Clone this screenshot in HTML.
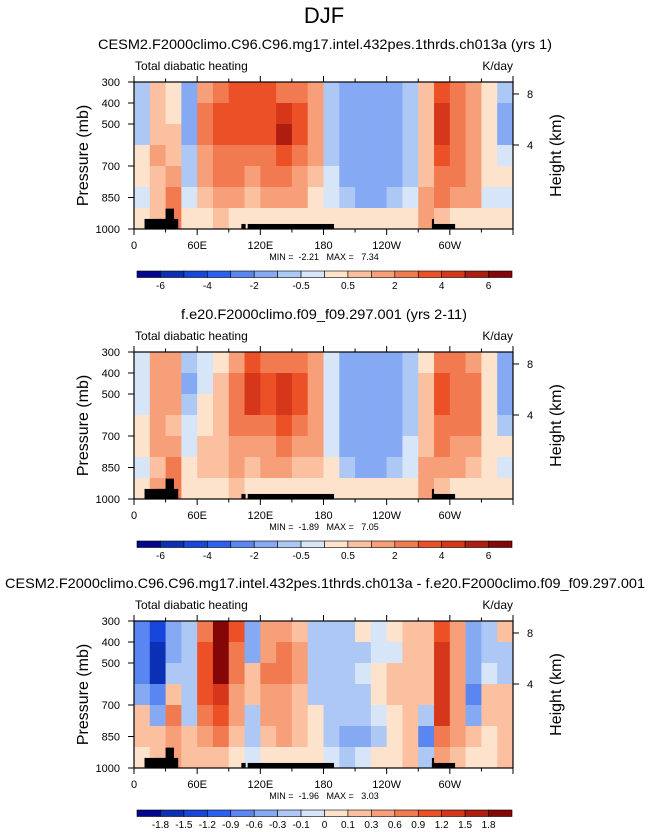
<!DOCTYPE html>
<html><head><meta charset="utf-8"><style>
html,body{margin:0;padding:0;background:#fff;}
svg{display:block;font-family:"Liberation Sans",sans-serif;}
.pre{white-space:pre;}
</style></head><body>
<svg id="fig" width="648" height="832" viewBox="0 0 648 832">
<text x="324" y="23" font-size="22" text-anchor="middle">DJF</text>
</svg>
<script>
// ===== data =====
const lonEdges = [0,15,30,45,60,75,90,105,120,135,150,165,180,195,210,225,240,255,270,285,300,315,330,345,360];
const presEdges = [300,400,500,600,700,800,900,1000];
const levelsAbs = [-6,-5,-4,-3,-2,-1,-0.5,0,0.5,1,2,3,4,5,6];
const levelsDiff = [-1.8,-1.5,-1.2,-0.9,-0.6,-0.3,-0.1,0,0.1,0.3,0.6,0.9,1.2,1.5,1.8];
const cbLabelsAbs = ["-6","-4","-2","-0.5","0.5","2","4","6"];
const cbLabelsDiff = ["-1.8","-1.5","-1.2","-0.9","-0.6","-0.3","-0.1","0","0.1","0.3","0.6","0.9","1.2","1.5","1.8"];
const xTickLons = [0,60,120,180,240,300];
const xTickLabels = ["0","60E","120E","180","120W","60W"];
const yTickPres = [300,400,500,700,850,1000];
const hTicks = [8,4];
const hTickPres = [357,600];
const palette = ["#04068f","#0b30b6","#1646da","#2b60f1","#5a86f1","#86a9f4","#aec8f6","#d7e5f8","#fde3cc","#fbc0a0","#f79f78","#f27a50","#ec5027","#d6371a","#ae1d10","#850606"];
// topography: [lonStart, lonEnd, topPressure]
const topoLon0 = [10,20,30,102,108,283,283];
const topoLon1 = [42,30,38,106,190,285,305];
const topoTop  = [952,952,903,976,976,952,976];

const p1 = [
[-0.7,0.7,0.3,-1.5,1.5,2.5,3,3,3,2.5,2.5,1.5,-0.8,-1.5,-1.5,-1.5,-1.5,-0.7,0.5,3,2,1.5,0.3,-1],
[-0.7,0.7,0.3,-1.5,2,3.5,3.5,3.5,3.5,4.5,3,1.5,-0.8,-1.5,-1.5,-1.5,-1.5,-0.7,0.7,4,2.5,1.5,0.3,-1.2],
[-0.7,0.7,0.5,-1.5,2,3,3,3.5,3.5,5,3,1.5,-0.8,-1.5,-1.5,-1.5,-1.5,-0.7,0.7,4,2.5,1.5,0.3,-1.5],
[0.3,1,0.5,-1,1.5,2.5,2.5,2.5,2.5,3,2,1.2,-0.6,-1.5,-1.5,-1.5,-1.5,-0.7,0.7,3,2,1.5,0.3,-0.5],
[0.3,0.7,1,-0.7,1.2,2,2,1.5,2,2,1.5,0.7,-0.3,-1.5,-1.5,-1.5,-1.5,-0.7,0.7,2.5,2,1.5,0.3,0.3],
[-0.3,0.7,2.5,-0.3,0.7,1.2,1,0.7,1.2,1.2,1,0.3,-0.2,-1,-1.5,-1.5,-1,-0.3,1.5,2,1.2,1,-0.3,-0.5],
[0.3,0.7,2,0.3,0.3,0.5,0.3,0.3,0.3,0.3,0.3,0.3,0.3,0.3,0.2,0.3,0.3,0.3,1,0.7,0.3,0.2,0.2,0.2]
];
const p2 = [
[-0.3,1.2,1,-0.7,-0.3,0.3,1.5,3,2.5,2.5,2,1,-0.3,-1.5,-1.5,-1.5,-1.5,-0.7,0.3,2.5,2,1.5,0.3,-1.5],
[-0.3,1.5,1,-1.2,-0.3,0.7,2,4,3,4,3,1.5,-0.5,-1.5,-1.5,-1.5,-1.5,-0.7,0.7,3.5,2.5,2,0.3,-1.5],
[-0.3,1.5,1,-1,0.3,0.7,2,4,3,4.5,3,1.5,-0.5,-1.5,-1.5,-1.5,-1.5,-0.7,0.7,3.5,2,2.5,0.3,-1.5],
[0.3,1.5,0.7,-0.5,0.3,0.7,2,2.5,2.5,3,2,1.5,-0.3,-1.5,-1.5,-1.5,-1.5,-0.7,0.7,2.5,2,2,0.3,-1],
[0.3,1,1,-0.3,0.7,0.7,1.5,1.5,1.5,2,1.5,1,-0.3,-1.2,-1.5,-1.5,-1.5,-0.5,0.7,2.5,1.5,1.5,0.3,0.3],
[-0.3,0.5,2.5,0.3,0.5,0.7,1,0.7,1,1,0.7,0.5,0.3,-0.7,-1.5,-1.5,-1,-0.3,1.5,1.5,1.2,0.7,0.3,-0.5],
[0.3,1.5,2,0.3,0.3,0.3,0.7,0.3,0.3,0.3,0.3,0.3,0.3,0.3,0.3,0.3,0.3,0.3,1,0.7,0.3,0.3,0.3,0.2]
];
const p3 = [
[-0.7,-1.3,-0.4,-0.3,0.7,2,0.9,-0.4,0.5,0.3,0.2,-0.2,-0.2,-0.2,0.05,-0.05,0.05,0.15,0.2,1.0,0.5,-0.4,-0.2,0.15],
[-0.7,-1.6,-0.4,-0.3,0.9,2,0.7,-0.4,0.5,0.7,0.3,-0.2,-0.2,-0.3,-0.15,-0.05,-0.05,0.15,0.2,1.3,0.5,-0.5,-0.2,-0.2],
[-0.7,-1.6,-0.3,-0.2,1.0,2,0.7,0.2,0.6,0.6,0.3,-0.2,-0.2,-0.2,-0.05,0.05,0.15,0.2,0.2,1.2,0.5,-0.4,-0.1,-0.3],
[-0.4,-0.9,0.2,-0.2,0.9,1.3,0.5,0.2,0.4,0.4,0.2,-0.2,-0.2,-0.2,-0.15,0.05,0.15,0.2,0.2,1.2,0.5,-0.7,0.15,0.15],
[0.15,-0.4,0.7,-0.2,0.7,0.9,0.4,-0.2,0.5,0.3,0.2,0.05,-0.2,-0.3,-0.2,-0.05,0.05,0.2,-0.3,1.2,0.5,-0.4,0.15,0.15],
[0.15,0.2,0.5,0.15,0.5,0.7,0.2,-0.2,0.2,0.3,0.15,0.05,-0.3,-0.6,-0.6,-0.3,0.05,0.15,-0.7,0.7,0.3,0.15,0.05,0.15],
[0.05,0.15,0.5,0.15,0.15,0.2,0.05,-0.05,0.05,0.05,0.05,0.05,-0.05,-0.15,-0.05,0.05,0.05,0.15,-0.3,0.3,0.15,0.05,0.05,0.15]
];

// ===== drawing =====
const NS = "http://www.w3.org/2000/svg";
const svg = document.getElementById("fig");
const X0 = 134, X1 = 513, PH = 147;
function mk(tag, attrs, parent, txt) {
  const e = document.createElementNS(NS, tag);
  for (const k in attrs) e.setAttribute(k, attrs[k]);
  if (txt !== undefined) e.textContent = txt;
  (parent || svg).appendChild(e);
  return e;
}
function xOf(lon) { return X0 + lon / 360 * (X1 - X0); }
function colorOf(v, lev) { let i = 0; while (i < lev.length && v >= lev[i]) i++; return palette[i]; }

function panel(top, title, titleX0, titleX1, data, lev, labels, minmax, labelEvery, name) {
  const yOf = p => top + (p - 300) / 700 * PH;
  const g = mk("g", {});
  
  
  const t = mk("text", {x: (titleX0 + titleX1) / 2, y: top - 33, "font-size": 14, "text-anchor": "middle", textLength: titleX1 - titleX0, lengthAdjust: "spacingAndGlyphs"}, g, title);
  
  
  const st = mk("text", {x: 135, y: top - 12, "font-size": 12}, g, "Total diabatic heating");
  
  
  const un = mk("text", {x: 513, y: top - 12, "font-size": 12, "text-anchor": "end"}, g, "K/day");
  
  
  for (let r = 0; r < data.length; r++) {
    for (let c = 0; c < data[r].length; c++) {
      const x = xOf(lonEdges[c]), y = yOf(presEdges[r]);
      const cell = mk("rect", {x: x, y: y, width: xOf(lonEdges[c + 1]) - x + 0.5, height: yOf(presEdges[r + 1]) - y + 0.5, fill: colorOf(data[r][c], lev)}, g);
      
      
    }
  }
  for (let i = 0; i < topoLon0.length; i++) {
    const x = xOf(topoLon0[i]), y = yOf(topoTop[i]);
    const tp = mk("rect", {x: x, y: y, width: xOf(topoLon1[i]) - x, height: yOf(1000) - y, fill: "#000"}, g);
    
    
  }
  const fr = mk("rect", {x: X0, y: top, width: X1 - X0, height: PH, fill: "none", stroke: "#000", "stroke-width": 1.2}, g);
  
  
  for (let lon = 0; lon <= 360; lon += 30) {
    const x = xOf(lon), L = lon % 60 === 0 ? 6 : 3.5;
    mk("line", {x1: x, x2: x, y1: top + PH, y2: top + PH + L, stroke: "#000"}, g);
    mk("line", {x1: x, x2: x, y1: top, y2: top - L, stroke: "#000"}, g);
  }
  xTickLons.forEach((lon, i) => {
    const tl = mk("text", {x: xOf(lon), y: top + PH + 20, "font-size": 11, "text-anchor": "middle"}, g, xTickLabels[i]);
    
    
  });
  yTickPres.forEach(p => {
    mk("line", {x1: X0, x2: X0 - 6, y1: yOf(p), y2: yOf(p), stroke: "#000"}, g);
    const yl = mk("text", {x: 120, y: yOf(p) + 4, "font-size": 11, "text-anchor": "end"}, g, String(p));
    
    
  });
  hTicks.forEach((h, i) => {
    const y = yOf(hTickPres[i]);
    mk("line", {x1: X1, x2: X1 + 6, y1: y, y2: y, stroke: "#000"}, g);
    const hl = mk("text", {x: 527, y: y + 4, "font-size": 11}, g, String(h));
    
    
  });
  const ya = mk("text", {x: 0, y: 0, "font-size": 16, "text-anchor": "middle", transform: `translate(88,${top + PH / 2}) rotate(-90)`}, g, "Pressure (mb)");
  
  
  const ha = mk("text", {x: 0, y: 0, "font-size": 16, "text-anchor": "middle", transform: `translate(561,${top + PH / 2}) rotate(-90)`}, g, "Height (km)");
  
  
  const mm = mk("text", {x: 324, y: top + 178, "font-size": 9, "text-anchor": "middle", "class": "pre"}, g, minmax);
  
  
  const cx0 = 137, cx1 = 512, cy = top + 189, bw = (cx1 - cx0) / 16;
  for (let i = 0; i < 16; i++) {
    const b = mk("rect", {x: cx0 + i * bw, y: cy, width: bw, height: 6.5, fill: palette[i], stroke: "#000", "stroke-width": 0.6}, g);
    
    
  }
  labels.forEach((lb, i) => {
    const bi = 1 + i * labelEvery;
    const cl = mk("text", {x: cx0 + bi * bw, y: cy + 18, "font-size": 10, "text-anchor": "middle"}, g, lb);
    
    
  });
}
panel(82, "CESM2.F2000climo.C96.C96.mg17.intel.432pes.1thrds.ch013a (yrs 1)", 98, 552, p1, levelsAbs, cbLabelsAbs, "MIN =  -2.21   MAX =   7.34", 2, "panel-test");
panel(352, "f.e20.F2000climo.f09_f09.297.001 (yrs 2-11)", 181, 467, p2, levelsAbs, cbLabelsAbs, "MIN =  -1.89   MAX =   7.05", 2, "panel-control");
panel(621, "CESM2.F2000climo.C96.C96.mg17.intel.432pes.1thrds.ch013a - f.e20.F2000climo.f09_f09.297.001", 5, 645, p3, levelsDiff, cbLabelsDiff, "MIN =  -1.96   MAX =   3.03", 1, "panel-difference");
</script>
</body></html>
